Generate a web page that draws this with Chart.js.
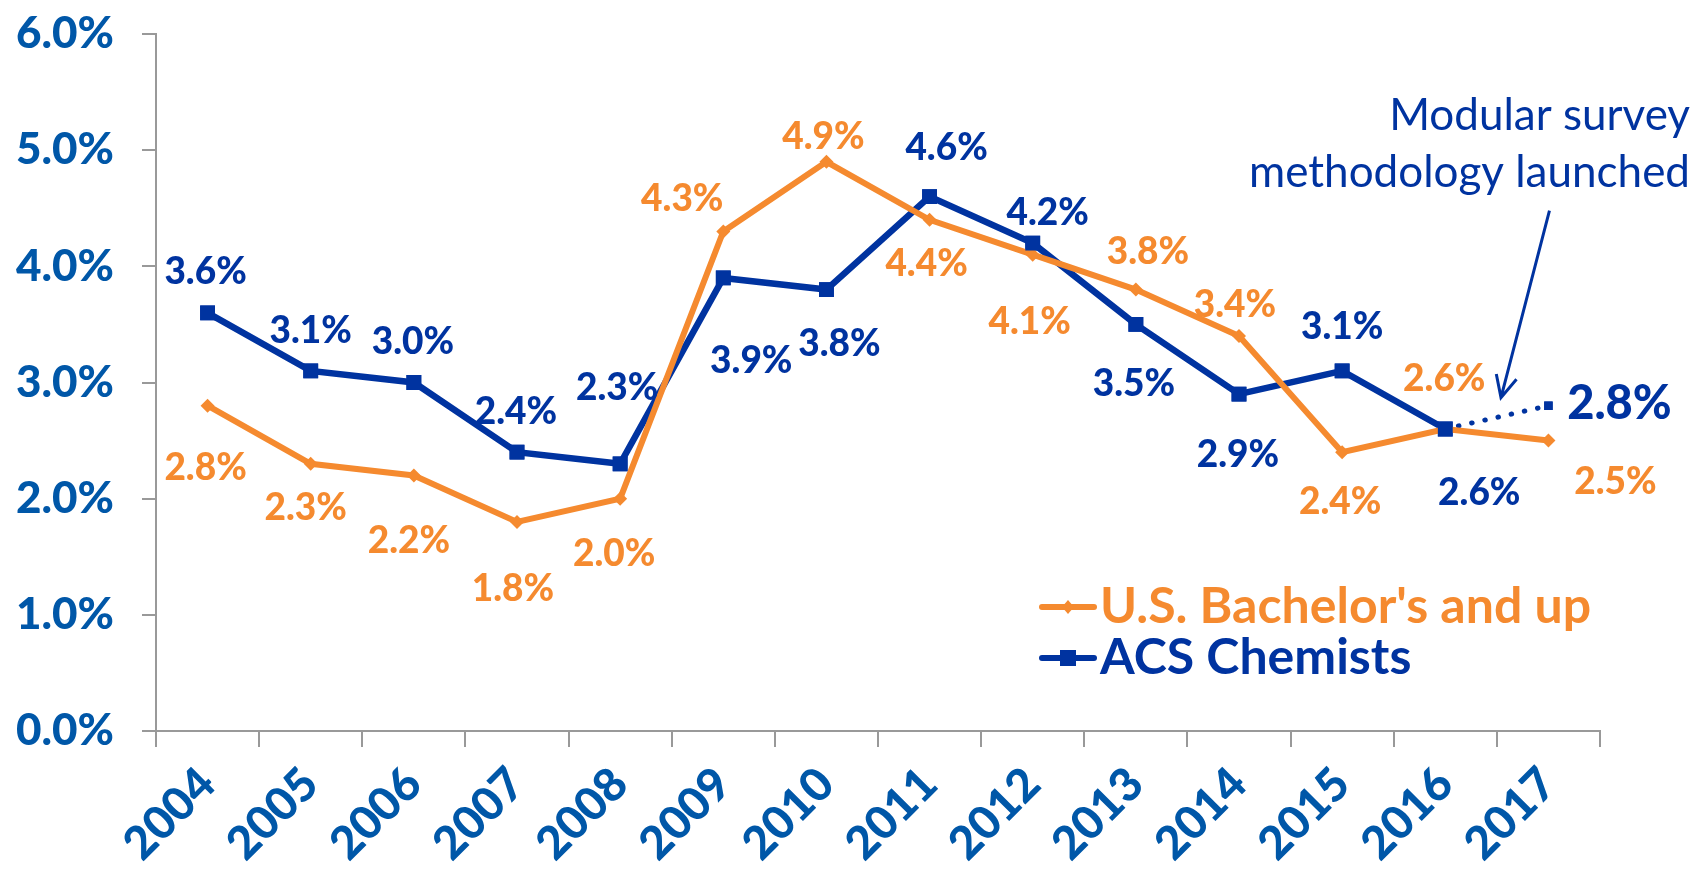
<!DOCTYPE html>
<html>
<head>
<meta charset="utf-8">
<script src="https://cdn.jsdelivr.net/npm/chart.js@4.4.1/dist/chart.umd.min.js"></script>
<style>
html, body { margin: 0; padding: 0; background: #fff; }
</style>
</head>
<body>
<canvas id="myChart" width="1697" height="881"></canvas>
<script>
var years = ['2004', '2005', '2006', '2007', '2008', '2009', '2010', '2011', '2012', '2013', '2014', '2015', '2016', '2017'];
var bachelorsRate = [2.8, 2.3, 2.2, 1.8, 2.0, 4.3, 4.9, 4.4, 4.1, 3.8, 3.4, 2.4, 2.6, 2.5];
var chemistsRate = [3.6, 3.1, 3.0, 2.4, 2.3, 3.9, 3.8, 4.6, 4.2, 3.5, 2.9, 3.1, 2.6, 2.8];
var yTickValues = [0, 1, 2, 3, 4, 5, 6];
var seriesNames = ["U.S. Bachelor's and up", 'ACS Chemists'];
var noteLines = ['Modular survey', 'methodology launched'];

// where each value label sits, relative to its point (px)
var bachelorsLabelOffset = [[-2, 62], [-5, 44], [-5, 66], [-4, 67], [-6, 55], [-41, -32], [-3, -25], [-3, 44], [-3, 67], [12, -38], [-4, -31], [-2, 50], [-1, -50], [67, 41]];
var chemistsLabelOffset = [[-2, -41], [0, -40], [-1, -40], [-1, -40], [-3, -76], [28, 83], [13, 54], [17, -49], [15, -30], [-2, 60], [-1, 61], [0, -44], [34, 64], [71, -2]];

var orange = '#f58a2f';
var navy = '#0033a0';
var tickBlue = '#0057a8';
var axisGray = '#999999';
var fontFamily = 'Lato, "Open Sans", sans-serif';

var labelsPlugin = {
    id: 'valueLabels',
    afterDatasetsDraw: function (chart) {
        var ctx = chart.ctx;
        var sets = [
            { idx: 0, offs: bachelorsLabelOffset, color: orange },
            { idx: 1, offs: chemistsLabelOffset, color: navy }
        ];
        ctx.save();
        ctx.textAlign = 'center';
        ctx.textBaseline = 'middle';
        sets.forEach(function (s) {
            var meta = chart.getDatasetMeta(s.idx);
            var values = chart.data.datasets[s.idx].data;
            meta.data.forEach(function (pt, j) {
                if (values[j] == null) return;
                var big = (s.idx === 1 && j === values.length - 1);
                ctx.font = '900 ' + (big ? 47 : 37) + 'px ' + fontFamily;
                ctx.fillStyle = s.color;
                ctx.fillText(values[j].toFixed(1) + '%', pt.x + s.offs[j][0], pt.y + s.offs[j][1]);
            });
        });
        ctx.restore();
    }
};

var legendPlugin = {
    id: 'insideLegend',
    afterDraw: function (chart) {
        var ctx = chart.ctx;
        var a = chart.chartArea;
        var x0 = a.left + 886, rowY = [a.top + 573, a.top + 624];
        var cols = [orange, navy];
        ctx.save();
        ctx.textAlign = 'left';
        ctx.textBaseline = 'middle';
        for (var i = 0; i < 2; i++) {
            ctx.strokeStyle = cols[i];
            ctx.lineWidth = 6;
            ctx.lineCap = 'round';
            ctx.beginPath();
            ctx.moveTo(x0, rowY[i]);
            ctx.lineTo(x0 + 52, rowY[i]);
            ctx.stroke();
            ctx.fillStyle = cols[i];
            var cx = x0 + 26;
            if (i === 0) {
                ctx.beginPath();
                ctx.moveTo(cx, rowY[i] - 7); ctx.lineTo(cx + 6, rowY[i]);
                ctx.lineTo(cx, rowY[i] + 7); ctx.lineTo(cx - 6, rowY[i]);
                ctx.fill();
            } else {
                ctx.fillRect(cx - 8, rowY[i] - 8, 16, 16);
            }
            ctx.font = 'bold 50px ' + fontFamily;
            ctx.fillText(seriesNames[i], x0 + 58, rowY[i]);
        }
        ctx.restore();
    }
};

var notePlugin = {
    id: 'methodNote',
    afterDraw: function (chart) {
        var ctx = chart.ctx;
        var xs = chart.scales.x, ys = chart.scales.y;
        ctx.save();
        ctx.fillStyle = navy;
        ctx.font = '44px ' + fontFamily;
        ctx.textAlign = 'right';
        ctx.textBaseline = 'middle';
        ctx.fillText(noteLines[0], 1690, 116);
        ctx.fillText(noteLines[1], 1690, 173);
        // arrow toward the 2016-2017 dotted segment
        var x1 = xs.getPixelForValue(13.01), y1 = ys.getPixelForValue(4.48);
        var x2 = xs.getPixelForValue(12.54), y2 = ys.getPixelForValue(2.87);
        ctx.strokeStyle = navy;
        ctx.lineWidth = 3;
        ctx.beginPath();
        ctx.moveTo(x1, y1);
        ctx.lineTo(x2, y2);
        var ang = Math.atan2(y2 - y1, x2 - x1);
        var len = 24;
        ctx.moveTo(x2 - len * Math.cos(ang - 0.45), y2 - len * Math.sin(ang - 0.45));
        ctx.lineTo(x2, y2);
        ctx.lineTo(x2 - len * Math.cos(ang + 0.45), y2 - len * Math.sin(ang + 0.45));
        ctx.stroke();
        ctx.restore();
    }
};

function chemistsPointRadius(c) {
    return c.dataIndex === chemistsRate.length - 1 ? 6 : 10.5;
}

new Chart('myChart', {
    type: 'line',
    data: {
        labels: years,
        datasets: [{
            label: seriesNames[0],
            data: bachelorsRate,
            borderColor: orange,
            backgroundColor: orange,
            borderWidth: 6,
            pointStyle: 'rectRot',
            pointRadius: 7,
            pointBorderWidth: 0,
            tension: 0
        }, {
            label: seriesNames[1],
            data: chemistsRate,
            borderColor: navy,
            backgroundColor: navy,
            borderWidth: 6.5,
            borderCapStyle: 'round',
            pointStyle: 'rect',
            pointRadius: chemistsPointRadius,
            pointBorderWidth: 0,
            tension: 0,
            segment: {
                borderDash: function (c) { return c.p1DataIndex === chemistsRate.length - 1 ? [0.5, 13] : undefined; },
                borderWidth: function (c) { return c.p1DataIndex === chemistsRate.length - 1 ? 5 : undefined; }
            }
        }, {
            // blue markers again, on top of the orange line
            label: 'markers',
            data: chemistsRate,
            showLine: false,
            order: -1,
            backgroundColor: navy,
            pointStyle: 'rect',
            pointRadius: chemistsPointRadius,
            pointBorderWidth: 0
        }]
    },
    options: {
        responsive: false,
        devicePixelRatio: 1,
        animation: false,
        layout: { padding: { top: 34, right: 97, left: 0, bottom: 0 } },
        plugins: {
            legend: { display: false },
            title: { display: false },
            tooltip: { enabled: false }
        },
        scales: {
            x: {
                offset: true,
                grid: { drawOnChartArea: false, color: axisGray, lineWidth: 2, tickLength: 16, offset: true },
                border: { color: axisGray, width: 2 },
                ticks: {
                    color: tickBlue,
                    font: { family: fontFamily, size: 46, weight: 900 },
                    minRotation: 45,
                    maxRotation: 45,
                    padding: 10
                },
                afterFit: function (scale) { scale.height = 150; }
            },
            y: {
                min: 0,
                max: 6,
                afterBuildTicks: function (scale) {
                    scale.ticks = yTickValues.map(function (v) { return { value: v }; });
                },
                grid: { drawOnChartArea: false, color: axisGray, lineWidth: 2, tickLength: 14 },
                border: { color: axisGray, width: 2 },
                ticks: {
                    color: tickBlue,
                    font: { family: fontFamily, size: 44, weight: 900 },
                    padding: 28,
                    callback: function (v) { return Number(v).toFixed(1) + '%'; }
                },
                afterFit: function (scale) {
                    scale.width = 156;
                    scale.paddingTop = 0;
                    scale.paddingBottom = 0;
                }
            }
        }
    },
    plugins: [labelsPlugin, legendPlugin, notePlugin]
});
</script>
</body>
</html>
